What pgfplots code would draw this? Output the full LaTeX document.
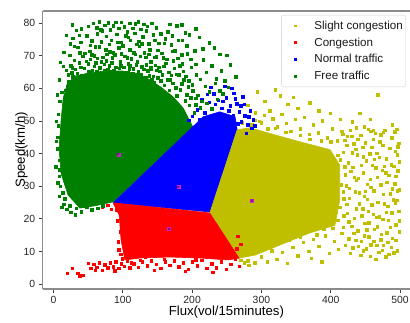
\documentclass[border=0pt]{standalone}
\usepackage{pgfplots}
\pgfplotsset{compat=1.18}
\usepackage{fontspec}
\setmainfont{Liberation Sans}
\definecolor{cy}{rgb}{0.75,0.75,0}
\definecolor{cr}{rgb}{1,0,0}
\definecolor{cb}{rgb}{0,0,1}
\definecolor{cg}{rgb}{0,0.5,0}
\definecolor{cm}{rgb}{0.75,0,0.75}
\begin{document}
\begin{tikzpicture}
\useasboundingbox (0pt,0pt) rectangle (410pt,323pt);
\begin{axis}[
 at={(42.7pt,34pt)}, anchor=south west,
 scale only axis, width=367.3pt, height=278pt,
 xmin=-15.6, xmax=514.4, ymin=-1.5, ymax=83.7,
 axis lines=left,
 xtick={0,100,200,300,400,500}, ytick={0,10,20,30,40,50,60,70,80},
 tick align=outside,
 major tick length=4pt,
 tick style={black!75, line width=0.9pt},
 axis line style={black!45, line width=1.1pt, -},
 ticklabel style={font=\fontsize{10.4}{12}\selectfont, text=black!85},
 /pgf/number format/assume math mode=true,
 xlabel={Flux(vol/15minutes)}, ylabel={Speed(km/h)},
 label style={font=\fontsize{13.2}{15}\selectfont},
 xlabel style={at={(axis description cs:0.5,-0.083)}, anchor=center},
 ylabel style={at={(axis description cs:-0.058,0.5)}, anchor=center},
 legend style={at={(0.989,0.9856)}, anchor=north east, draw=black!18, rounded corners=2.5pt,
   font=\fontsize{11.6}{13}\selectfont, text=black!90, row sep=3pt, inner xsep=1pt, inner ysep=3.5pt},
 legend cell align=left,
 scatter pts/.style={only marks, mark=square*, mark size=1.25pt,
   legend image code/.code={\path[draw=none,fill=none] (0pt,-2pt) rectangle (30pt,2pt); \draw[##1, mark size=0.9pt] plot coordinates {(12.5pt,0pt)};}},
]
% ---------- dense regions ----------
\addplot[draw=cg, line width=0.6pt, fill=cg, forget plot] coordinates {
(38,23.3)(21,27.3)(11,33.8)(8,41.5)(11,50.4)(14,57)(20,61.5)(32,63.8)(53,64.8)(74,65.3)(100,65.3)(122,64.5)(140,62.5)(156,60.2)(172,57.5)(187,54)(201,48.2)(86,25.2)(60,24)(38,23.3)};
\addplot[draw=cb, line width=0.6pt, fill=cb, forget plot] coordinates {
(86,24.9)(201,48.2)(216,51.3)(240,52.8)(262,51.3)(265,47.3)(226,22.1)(86,24.9)};
\addplot[draw=cr, line width=0.6pt, fill=cr, forget plot] coordinates {
(86,24.9)(226,21.8)(269,8)(252,7.4)(211,8)(168,8.3)(125,8)(103,7.4)(97.5,13.5)(94.7,21.2)(86,24.9)};
\addplot[draw=cy, line width=0.6pt, fill=cy, forget plot] coordinates {
(265,47.3)(283.5,47.9)(320,45.7)(356,43.6)(399,41.2)(413,36.5)(413,25.8)(406,18)(370,15.7)(327,12)(291,8.9)(269,8)(226,22.1)(265,47.3)};
% ---------- scattered points ----------
\addplot[scatter pts, color=cy] coordinates {
(272,49.5)(279,51.4)(286,48.8)(291,52.6)(297,49.9)(304,51.8)(309,47.6)(316,50.7)(323,48.2)(329,52.1)(336,49.3)(342,46.8)(349,50.5)(356,47.7)(362,51.2)(369,45.9)(375,48.9)(382,46.4)(388,50.1)(395,44.8)(402,47.6)(409,43.9)(416,46.8)(423,42.5)(430,45.3)(437,47.9)
(280,54.8)(294,58.9)(305,56)(320,59.6)(327,57.8)(338,55.2)(352,53.9)(370,55.6)(383,53.1)(399,52.4)(414,50.6)(431,49.7)(448,48.3)(461,47.2)(468,58)(476,46.5)(489,48.8)(495,47.4)(457,50.5)(442,52.3)(312,53.2)(346,57.3)
(418,40.5)(425,37.2)(421,33.6)(427,29.4)(419,26.1)(424,21.8)(418,17.4)(426,13.9)(433,43.1)(438,39.6)(432,35.9)(440,32.4)(435,28.3)(441,24.6)(434,20.2)(439,16.3)(432,11.2)(446,41.9)(451,37.8)(447,34.1)(453,30.6)(448,26.9)(454,22.3)(449,18.7)(455,14.5)(447,10.3)(461,44.4)(466,40.1)(460,36.5)(467,32.8)(462,28.6)(468,25.1)(461,21.4)(467,17.6)(462,13.2)(469,9.8)(475,42.6)(480,38.4)(474,34.9)(481,31.2)(476,27.5)(482,23.8)(475,19.9)(481,15.7)(476,11.9)(488,44.9)(493,40.8)(487,36.6)(494,33.1)(489,29.3)(495,25.7)(488,21.9)(494,18.2)(489,14.1)(496,10.2)(499,37.5)(499,28.9)(498,22.4)(499,16.1)(484,9.1)(457,8.5)(444,13.1)(472,45.8)(458,46.9)
(420,44.1)(428,47.2)(436,41.4)(443,45.6)(450,43.3)(456,39.9)(464,46.3)(471,43.7)(478,47.1)(485,41.6)(492,46.7)(498,43.2)(422,30.1)(429,34.6)(437,31.9)(444,36.5)(450,28.4)(457,32.1)(465,35.7)(472,30.4)(479,34.2)(486,27.7)(492,30.8)(497,34.8)(423,24.5)(430,17.8)(437,23.1)(445,20.9)(452,16.6)(459,24.3)(466,20.5)(473,15.3)(480,22.1)(486,17.4)(493,24.9)(421,11.9)(428,9.5)(436,13.4)(443,8.9)(451,10.8)(458,12.1)(465,7.6)(472,13.6)(479,8.4)(487,11.3)(494,13.5)(499,19.5)(497,42.1)
(417,46)(424,45.3)(431,40.2)(439,44.4)(447,39)(454,47.5)(459,42)(463,38.3)(470,38.9)(477,36.2)(484,33.4)(491,36.2)(496,39.6)(419,21)(427,26.4)(434,32.7)(441,28)(446,23.1)(453,26)(458,29.7)(463,16.9)(470,20.6)(477,24.7)(483,19.6)(490,25.8)(496,28.6)(426,19.2)(433,15.6)(440,11.6)(448,14.9)(455,18.8)(466,11.9)(474,10.4)(482,12.9)(491,9.7)
(280,7.2)(290,6.5)(300,8.4)(308,6.9)(315,10.2)(322,7.6)(330,9.8)(337,6.4)(345,11.3)(352,8.7)(360,12.9)(368,10.1)(375,13.8)(383,11.6)(387,6.8)(392,14.9)(398,9.4)(405,13.2)(411,10.7)(372,7.9)(356,14.6)(340,13.5)(325,12.8)(310,11.4)(296,10.9)(285,9.6)(416,15.6)(403,17.1)(390,16.8)
(415,30.5)(414,38.2)(413,23.5)(410,19.6)(345,16.2)(360,17.5)(380,15.2)(395,19.8)(408,22.1)(418,28.3)(420,36)(410,39.5)(400,43.6)(386,44)(370,44.4)(356,45.6)(335,46.6)(320,47.8)(300,49.4)(290,50.2)(275,6.5)(282,5.8)(270,7.3)};
\addlegendentry{Slight congestion}
\addplot[scatter pts, color=cr] coordinates {
(19.5,3.4)(26.7,4.9)(35,3.4)(42.5,2.8)(38,2.5)(50,6.4)(54,4.8)(58,6.1)(62,5.2)(66,6.6)(70,4.3)(74,5.9)(78,5)(82,6.5)(86,5.3)(90,6.8)(94,4.9)(98,6.2)(102,5.5)(106,7)(110,5.1)(60,4.3)(88,4.1)(112,6.5)
(116,6.3)(122,5.2)(128,6.9)(135,5.6)(141,7.2)(148,6.1)(155,4.9)(161,6.8)(168,5.8)(174,7.1)(181,5.4)(187,6.6)(194,4.6)(200,6.9)(207,5.7)(214,7.3)(221,4.8)(228,6.2)(235,5.1)(242,6.8)(249,4.5)(256,6.1)(262,7.6)(268,5.5)(145,4.2)(190,3.9)(230,3.6)(258,9.4)(264,10.8)(270,12.2)(266,14.7)
(94,10.5)(96,16)(92,19.5)(93,13)(97,9.1)(91,22.8)(99,7.8)(95,23.5)(70,23.5)(78,24.2)(83,22.9)
(104,8.6)(118,8.9)(132,8.2)(152,9)(176,8.9)(196,8.6)(218,8.5)(240,8.3)(125,7.3)(160,7.6)(205,7.5)};
\addlegendentry{Congestion}
\addplot[scatter pts, color=cb] coordinates {
(210,50.5)(218,52.6)(225,55.8)(231,58.3)(238,56.4)(243,53.9)(249,57.2)(255,54.6)(259,51.7)(264,55.3)(268,52.9)(271,49.8)(276,51.6)(280,48.9)(284,53.1)(273,57.4)(260,58.5)(247,60.6)(235,51.5)(252,50.2)(288,50.4)(278,46.3)(241,49.8)(229,50.6)(266,49.1)
(195,50.2)(200,51.5)(207,53.5)(214,56.5)(222,58.2)(227,60.3)(233,55.1)(257,60)(262,56.8)(270,54.6)(275,55.2)(282,51.3)(286,47.8)(290,48.6)(244,56.1)(253,53.1)(248,48.9)};
\addlegendentry{Normal traffic}
\addplot[scatter pts, color=cg] coordinates {
(22,62)(28,63.5)(33,61.8)(41,64)(46,62.5)(58,63.8)(64,62.2)(79,64.5)(85,63.1)(92,64.8)(99,63.3)(107,64.9)(113,63.6)(126,64.2)(132,62.5)(138,63.9)(145,61.8)(150,63.2)(160,61)(167,59.5)(172,61.5)(178,57.8)(183,59.6)(190,56.2)(196,54.8)(203,52.6)
(18,65.5)(25,67)(31,65.8)(37,67.8)(44,66.2)(50,67.5)(56,65.6)(61,67.9)(67,66.3)(73,67.4)(78,65.9)(84,67.8)(90,66.5)(96,68.2)(101,66.4)(108,67.6)(115,66)(121,68.1)(127,66.7)(134,67.3)(141,65.8)(147,67.1)(153,65.3)(159,66.8)(166,64.9)(174,66.2)(181,64.1)(188,62.7)(194,60.5)(201,59.3)(208,57.9)(214,56.1)
(15,71)(23,70.2)(35,72.6)(42,69.8)(52,71.4)(59,70)(66,72.8)(71,69.6)(81,71.2)(88,70.3)(94,72.5)(103,69.9)(110,71.8)(118,70.4)(124,72.9)(131,70.9)(139,71.9)(146,69.5)(156,70.8)(163,68.9)(171,71.4)(179,69.3)(186,67.5)(193,70.6)(199,66.4)(206,64.2)(212,62.8)(219,60.6)(225,58.9)(233,61.5)(240,59.2)(247,62.4)
(28,75.3)(39,74.1)(48,76.2)(55,74.6)(63,76.8)(69,74.3)(76,75.9)(83,74.8)(91,76.6)(97,74.2)(104,76.1)(111,74.7)(117,76.9)(123,74.4)(129,75.8)(137,73.6)(144,76.4)(152,73.9)(161,75.2)(170,73.4)(180,74.8)(192,73.1)(204,71.5)(216,68.7)(228,66.9)(242,65.4)(255,67.2)(263,63.6)
(57,80)(62,78.6)(66,80.4)(70,77.6)(74,79.3)(79,80.1)(82,77.9)(86,79.2)(90,80.3)(94,78.4)(98,80.2)(102,78.9)(106,77.3)(110,80)(114,78.5)(118,79.8)(122,80.4)(126,78.1)(130,79.6)(134,77.7)(27,79.5)(40,78.3)(148,78.6)(165,77.4)(178,79.2)(190,77)(210,75.6)(232,72.5)(250,70.1)
(205,57)(212,54)(221,55.5)(228,53.8)(236,56.7)(244,58.3)(252,60.4)
(6,45)(8,38)(6.5,52)(10,30)(13,28)(5,41.5)(9,56)(15,24.5)(19,23)(25,22)(31,21.3)(40,22.2)(48,23.5)(55,22.8)(64,23.2)(71,24)(7,48.5)(9,35)(12,58.8)(17,59.5)(4,43.8)(8,33)
(20,60.5)(26,64.8)(30,68.6)(36,62.9)(39,66.5)(45,60.9)(49,64.1)(53,68.9)(57,61.9)(62,65.2)(68,63.9)(72,61.2)(76,68.4)(81,62.8)(87,65.5)(93,61.6)(97,66.9)(104,62.2)(109,65.9)(112,69.1)(117,62.4)(122,65.1)(128,63)(133,69.6)(136,65.4)(142,62.8)(149,65.6)(155,62.4)(158,69.4)(164,62.6)(170,64)(176,60.2)(185,61.4)(192,58)(198,57.2)(205,55)(60,72.8)(75,71.9)(100,73.1)(120,73.5)(140,68.2)(85,69.4)(45,70.8)(30,72.9)(150,71.7)(175,71.6)(160,73.8)(185,70.3)(198,69)(205,67.4)(220,64.9)(235,62.9)(215,72.2)(240,70.5)(225,74)(196,76.4)(168,79.6)(142,80)(155,76.8)(185,79.5)(205,78.3)(18,76.3)(33,77.8)(50,79)(10,68)(14,66.8)(8,62.6)(5,58)(4,50)(3,36)(6,31)(8,27)(16,26.2)(12,23.5)(23,24.1)(33,23.2)(44,23.9)(52,24.6)
(21,64.2)(27,66.3)(34,64.7)(38,70.9)(43,63.5)(47,68.3)(51,65.3)(55,70.3)(59,66.8)(63,69.2)(65,64.4)(69,68.1)(74,65.5)(77,70.4)(80,67)(83,65.3)(86,70.9)(89,64.2)(95,66.2)(98,70.6)(102,64.7)(106,69.4)(110,66.9)(114,64.6)(116,70.9)(119,67.2)(123,63.8)(125,69.8)(130,65.9)(133,63.4)(137,70.5)(140,66.4)(144,63.7)(148,69.7)(152,66.5)(157,64.1)(162,67.7)(168,62.7)(173,68.4)(177,64.4)(182,66.9)(187,65.2)(191,63.7)(195,62.4)(200,61.1)(24,73.6)(37,76.3)(53,73.2)(68,77.9)(80,73.5)(92,74.1)(108,75.6)(127,73.7)(135,79)(146,74.8)(171,76.2)(186,74.7)};
\addlegendentry{Free traffic}
% ---------- centroids ----------
\addplot[only marks, mark=square*, mark size=1.5pt, color=cm!85!white, forget plot] coordinates {
(93.5,39.8)(180,29.8)(286,25.6)(166.7,16.9)};
\addplot[only marks, mark=x, mark size=1.5pt, color=cm!70!black, line width=0.6pt, forget plot] coordinates {
(93.5,39.8)(180,29.8)(286,25.6)(166.7,16.9)};
\draw[black!45, line width=1.1pt] (rel axis cs:0,1) -- (rel axis cs:1,1);
\end{axis}
\end{tikzpicture}
\end{document}
